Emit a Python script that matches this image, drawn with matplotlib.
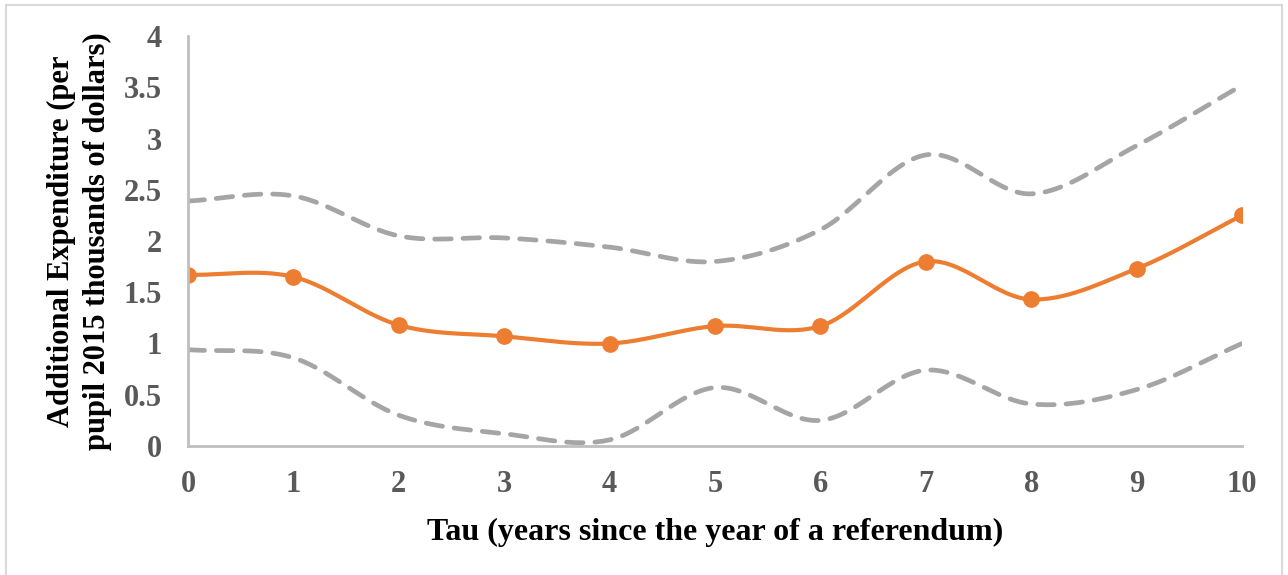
import numpy as np
import matplotlib
matplotlib.use("Agg")
import matplotlib.pyplot as plt
from matplotlib.patches import Rectangle

tau = [0, 1, 2, 3, 4, 5, 6, 7, 8, 9, 10]
estimate = [1.67, 1.65, 1.18, 1.07, 1.00, 1.17, 1.17, 1.80, 1.43, 1.73, 2.25]
upper = [2.39, 2.44, 2.05, 2.03, 1.94, 1.80, 2.11, 2.84, 2.46, 2.93, 3.52]
lower = [0.94, 0.86, 0.30, 0.12, 0.06, 0.57, 0.25, 0.74, 0.41, 0.55, 1.00]
yticks = [0, 0.5, 1, 1.5, 2, 2.5, 3, 3.5, 4]
ytick_labels = ["0", "0.5", "1", "1.5", "2", "2.5", "3", "3.5", "4"]

def smooth(xs, ys, n=30):
    # Catmull-Rom spline through the points (Excel-style smoothed line)
    xs = np.asarray(xs, float); ys = np.asarray(ys, float)
    px = np.concatenate([[2*xs[0]-xs[1]], xs, [2*xs[-1]-xs[-2]]])
    py = np.concatenate([[2*ys[0]-ys[1]], ys, [2*ys[-1]-ys[-2]]])
    ox, oy = [], []
    t = np.linspace(0, 1, n, endpoint=False)
    for i in range(1, len(px)-2):
        for P, out in ((px, ox), (py, oy)):
            p0, p1, p2, p3 = P[i-1], P[i], P[i+1], P[i+2]
            out.extend(0.5*((2*p1) + (-p0+p2)*t + (2*p0-5*p1+4*p2-p3)*t**2 + (-p0+3*p1-3*p2+p3)*t**3))
    ox.append(xs[-1]); oy.append(ys[-1])
    return np.array(ox), np.array(oy)

plt.rcParams['font.family'] = ['Liberation Serif', 'DejaVu Serif']
fig = plt.figure(figsize=(12.88, 5.75), dpi=100)
ax = fig.add_axes([188/1288, 1-446/575, (1242-188)/1288, (446-36)/575])

grey = "#A5A5A5"
orange = "#ED7D31"
for series in (upper, lower):
    sx, sy = smooth(tau, series)
    ax.plot(sx, sy, color=grey, lw=3.4, ls=(0, (3.5, 2.5)), dash_capstyle='round')
sx, sy = smooth(tau, estimate)
ax.plot(sx, sy, color=orange, lw=3.0)
ax.plot(tau, estimate, 'o', color=orange, ms=11, mec=orange)

ax.set_xlim(0, 10)
ax.set_ylim(0, 4)
ax.set_xticks(tau)
ax.set_xticklabels([str(t) for t in tau])
ax.set_yticks(yticks)
ax.set_yticklabels(ytick_labels)
for s in ("top", "right"):
    ax.spines[s].set_visible(False)
for s in ("left", "bottom"):
    ax.spines[s].set_color("#BFBFBF")
    ax.spines[s].set_linewidth(2)
ax.tick_params(length=0, labelsize=22, colors="#595959")
ax.tick_params(axis='y', pad=19)
ax.tick_params(axis='x', pad=17)
for lab in ax.get_xticklabels() + ax.get_yticklabels():
    lab.set_fontweight('bold')
ax.set_xlabel("Tau (years since the year of a referendum)", fontsize=23, fontweight='bold', labelpad=14)
ax.set_ylabel("Additional Expenditure (per\npupil 2015 thousands of dollars)", fontsize=22,
              fontweight='bold', labelpad=8, linespacing=1.3)
ax.patch.set_alpha(0)
fig.patches.append(Rectangle((6/1288, -0.1), (1282-6)/1288, 1.1-5/575, transform=fig.transFigure,
                             fill=False, ec="#D9D9D9", lw=1.5))
fig.savefig("out.png", dpi=100)
